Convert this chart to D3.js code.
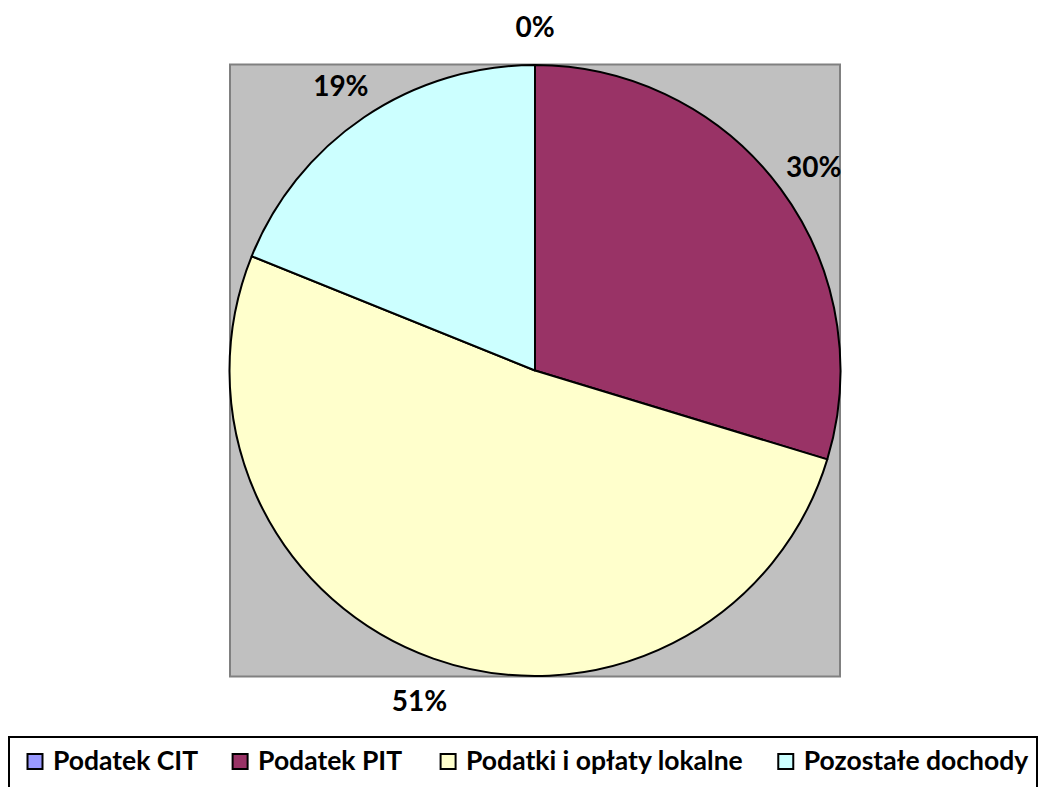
<!DOCTYPE html>
<html><head><meta charset="utf-8">
<script src="https://cdn.jsdelivr.net/npm/d3@7"></script>
<style>body{margin:0;background:#fff}svg{display:block}</style>
</head><body>
<svg id="c" width="1040" height="787"></svg>
<script>
const categories = ["Podatek CIT","Podatek PIT","Podatki i opłaty lokalne","Pozostałe dochody"];
const values = [0.0, 29.7, 51.4, 18.9];
const labels = ["0%","30%","51%","19%"];
const colors = ["#9999FF","#993366","#FFFFCC","#CCFFFF"];

const svg = d3.select("#c");
const font = "Lato, 'Open Sans', sans-serif";

// plot area
svg.append("rect").attr("x",230).attr("y",64.5).attr("width",610).attr("height",612)
  .attr("fill","#C0C0C0").attr("stroke","#808080").attr("stroke-width",2);

const cx = 535, cy = 370.5, r = 305.5;
const g = svg.append("g").attr("transform",`translate(${cx},${cy})`);
const pie = d3.pie().sort(null).value(d=>d)(values);
const arc = d3.arc().innerRadius(0).outerRadius(r);
g.selectAll("path").data(pie).join("path")
  .attr("d",arc).attr("fill",(d,i)=>colors[i])
  .attr("stroke","#000").attr("stroke-width",2).attr("stroke-linejoin","round");

const labelArc = d3.arc().innerRadius(347).outerRadius(347);
g.selectAll("text.lbl").data(pie).join("text").attr("class","lbl")
  .attr("transform",d=>{const p=labelArc.centroid(d);return `translate(${p[0]},${p[1]+3})`;})
  .attr("text-anchor","middle").attr("dy","0.36em")
  .attr("font-family",font).attr("font-weight","bold").attr("font-size",28)
  .attr("fill","#000").text((d,i)=>labels[i]);

// legend
svg.append("rect").attr("x",9).attr("y",737).attr("width",1028).attr("height",56)
  .attr("fill","#fff").attr("stroke","#000").attr("stroke-width",2);
const lg = svg.append("g");
let x = 27;
const gaps = [34,38,35,0];
categories.forEach((c,i)=>{
  lg.append("rect").attr("x",x+0.5).attr("y",754).attr("width",15).attr("height",15)
    .attr("fill",colors[i]).attr("stroke","#000").attr("stroke-width",2);
  const t = lg.append("text").attr("x",x+26).attr("y",770)
    .attr("font-family",font).attr("font-weight","bold").attr("font-size",26.5)
    .attr("fill","#000").text(c);
  x = x + 26 + t.node().getComputedTextLength() + gaps[i];
});
</script>
</body></html>
